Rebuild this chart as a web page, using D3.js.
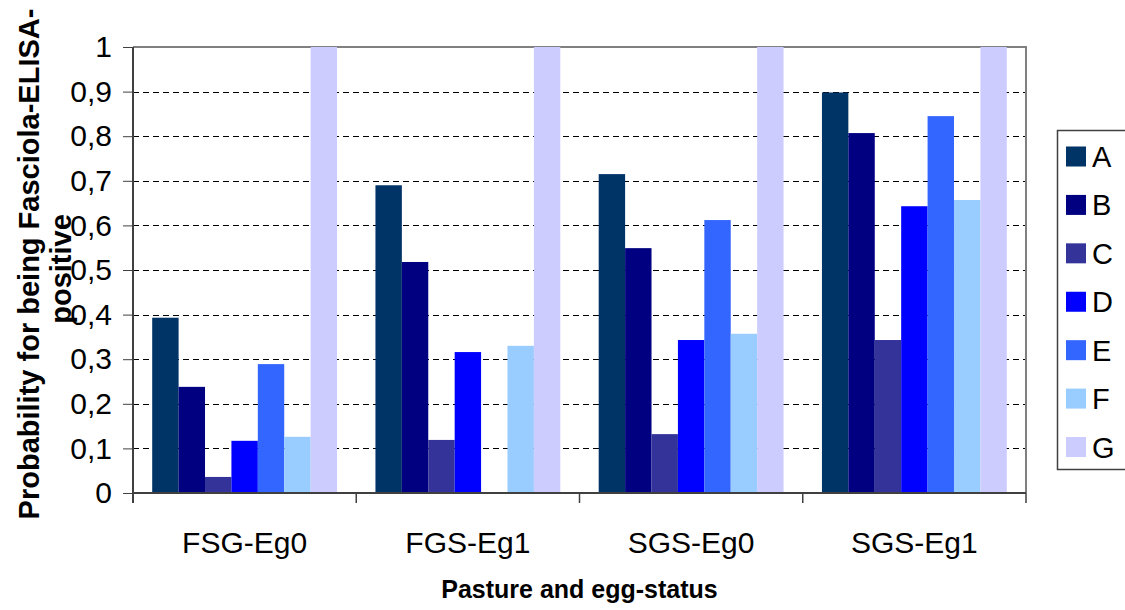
<!DOCTYPE html>
<html>
<head>
<meta charset="utf-8">
<script src="https://cdn.jsdelivr.net/npm/d3@7"></script>
<style>
  html, body { margin: 0; padding: 0; background: #fff; }
  svg { display: block; font-family: "Liberation Sans", Arial, sans-serif; }
</style>
</head>
<body>
<svg id="chart" width="1125" height="610"></svg>
<script>
// Pasture / egg-status groups on the x axis
const categories = ["FSG-Eg0", "FGS-Eg1", "SGS-Eg0", "SGS-Eg1"];
// Series A–G (null = no bar)
const seriesNames = ["A", "B", "C", "D", "E", "F", "G"];
const seriesA = [0.393, 0.690, 0.715, 0.898];
const seriesB = [0.238, 0.518, 0.549, 0.807];
const seriesC = [0.036, 0.119, 0.132, 0.343];
const seriesD = [0.117, 0.316, 0.343, 0.643];
const seriesE = [0.289, null, 0.612, 0.845];
const seriesF = [0.126, 0.330, 0.357, 0.657];
const seriesG = [1.0, 1.0, 1.0, 1.0];
const seriesColors = ["#003366", "#000080", "#333399", "#0000FF", "#3366FF", "#99CCFF", "#CCCCFF"];
const yTicks = [0, 0.1, 0.2, 0.3, 0.4, 0.5, 0.6, 0.7, 0.8, 0.9, 1];
const yTickLabels = ["0", "0,1", "0,2", "0,3", "0,4", "0,5", "0,6", "0,7", "0,8", "0,9", "1"];

const allSeries = [seriesA, seriesB, seriesC, seriesD, seriesE, seriesF, seriesG];

const svg = d3.select("#chart");
const plot = { left: 133, right: 1026, top: 47, bottom: 493 };

const x0 = d3.scaleBand().domain(categories).range([plot.left, plot.right]).paddingInner(0).paddingOuter(0);
const groupPad = 0.086;
const x1 = d3.scaleBand().domain(seriesNames)
  .range([x0.bandwidth() * groupPad, x0.bandwidth() * (1 - groupPad)]).padding(0);
const y = d3.scaleLinear().domain([0, 1]).range([plot.bottom, plot.top]);

// dashed gridlines
svg.append("g").selectAll("line")
  .data(yTicks.filter(t => t > 0 && t < 1))
  .join("line")
  .attr("x1", plot.left).attr("x2", plot.right)
  .attr("y1", d => Math.round(y(d)) + 0.5).attr("y2", d => Math.round(y(d)) + 0.5)
  .attr("stroke", "#000").attr("stroke-width", 1)
  .attr("stroke-dasharray", "6,4");

// plot frame (top and right)
svg.append("path")
  .attr("d", `M${plot.left},${plot.top}H${plot.right}V${plot.bottom}`)
  .attr("fill", "none").attr("stroke", "#808080").attr("stroke-width", 2);

// bars
const barData = [];
allSeries.forEach((vals, si) => {
  vals.forEach((v, ci) => {
    if (v !== null) barData.push({ s: seriesNames[si], c: categories[ci], v, color: seriesColors[si] });
  });
});
svg.append("g").selectAll("rect")
  .data(barData)
  .join("rect")
  .attr("x", d => x0(d.c) + x1(d.s))
  .attr("width", x1.bandwidth())
  .attr("y", d => y(d.v))
  .attr("height", d => y(0) - y(d.v))
  .attr("fill", d => d.color);

// y axis
const yAxis = d3.axisLeft(y).tickValues(yTicks)
  .tickFormat((d, i) => yTickLabels[i]).tickSize(10).tickPadding(11);
const gy = svg.append("g").attr("transform", `translate(${plot.left},0)`).call(yAxis);
gy.select(".domain").attr("stroke", "#404040").attr("stroke-width", 2)
  .attr("d", `M0,${plot.top}V${plot.bottom + 10}`);
gy.selectAll(".tick line").attr("stroke", "#404040");
gy.selectAll(".tick text").attr("font-size", 30).attr("fill", "#000")
  .attr("font-family", "Liberation Sans, Arial, sans-serif");

// x axis with ticks on group boundaries
const gx = svg.append("g").attr("transform", `translate(0,${plot.bottom})`);
gx.append("line").attr("x1", plot.left).attr("x2", plot.right)
  .attr("stroke", "#404040").attr("stroke-width", 2);
const bounds = categories.map(c => x0(c)).concat([plot.right]);
gx.selectAll("line.tk").data(bounds.slice(1)).join("line").attr("class", "tk")
  .attr("x1", d => d).attr("x2", d => d).attr("y1", 0).attr("y2", 10)
  .attr("stroke", "#404040").attr("stroke-width", 1.5);
gx.selectAll("text").data(categories).join("text")
  .attr("x", d => x0(d) + x0.bandwidth() / 2)
  .attr("y", 60)
  .attr("text-anchor", "middle").attr("font-size", 30).attr("fill", "#000")
  .text(d => d);

// axis titles
svg.append("text")
  .attr("x", (plot.left + plot.right) / 2).attr("y", 598)
  .attr("text-anchor", "middle").attr("font-size", 25).attr("font-weight", "bold")
  .text("Pasture and egg-status");

svg.append("text")
  .attr("transform", "translate(39,264) rotate(-90)")
  .attr("text-anchor", "middle").attr("font-size", 29).attr("font-weight", "bold")
  .text("Probability for being Fasciola-ELISA-");
svg.append("text")
  .attr("transform", "translate(71,269) rotate(-90)")
  .attr("text-anchor", "middle").attr("font-size", 29).attr("font-weight", "bold")
  .text("positive");

// legend
const legend = svg.append("g");
legend.append("rect").attr("x", 1057.5).attr("y", 130.5).attr("width", 80).attr("height", 339)
  .attr("fill", "#fff").attr("stroke", "#404040").attr("stroke-width", 1.5);
const ly = d3.scalePoint().domain(seriesNames).range([156.5, 447]);
const items = legend.selectAll("g.item").data(seriesNames).join("g").attr("class", "item")
  .attr("transform", d => `translate(0,${ly(d)})`);
items.append("rect").attr("x", 1066).attr("y", -10).attr("width", 20).attr("height", 20)
  .attr("fill", (d, i) => seriesColors[i]);
items.append("text").attr("x", 1092).attr("y", 10.5).attr("font-size", 29).attr("fill", "#000")
  .text(d => d);
</script>
</body>
</html>
